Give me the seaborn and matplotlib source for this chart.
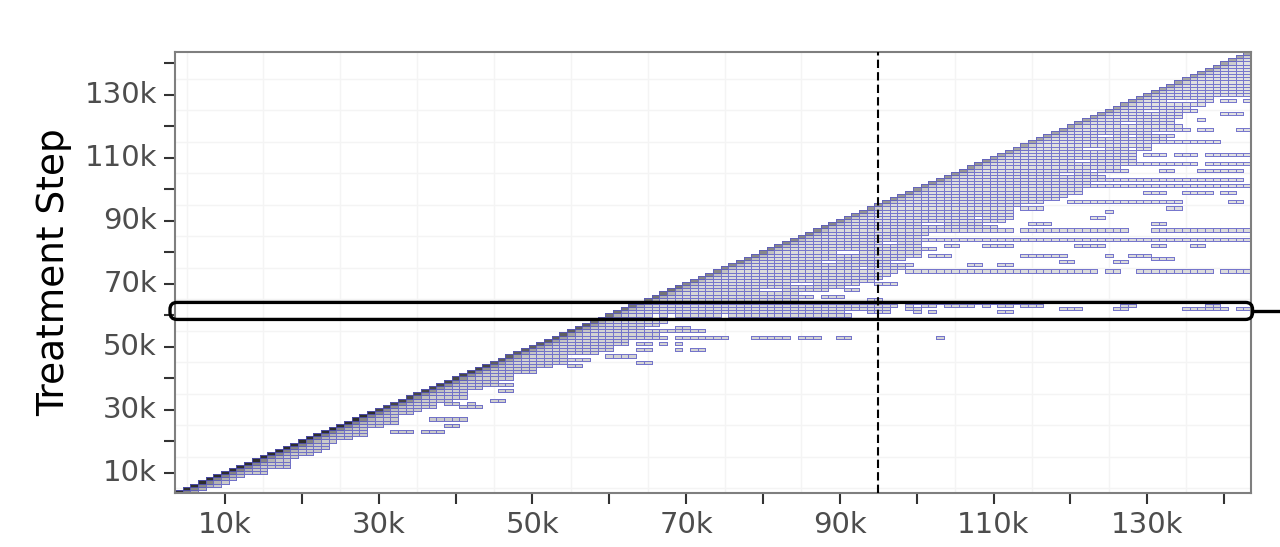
import numpy as np
import pandas as pd
import matplotlib
matplotlib.use("Agg")
import matplotlib.pyplot as plt
from matplotlib.patches import FancyBboxPatch
from matplotlib.lines import Line2D
import seaborn as sns

# steps are in thousands; rows = treatment step, columns = evaluation step
first_step, last_step = 4, 143

# last evaluation step of the solid block that starts on the diagonal, one per treatment step
band_end = [
    6, 7, 9, 10, 11, 12,                                  # 4-9
    15, 15, 18, 18, 18, 19, 21, 22, 23, 23,               # 10-19
    24, 26, 28, 28, 28, 30, 32, 32, 32, 34,               # 20-29
    35, 37, 37, 39, 41, 41, 41, 43, 45, 45,               # 30-39
    47, 47, 50, 50, 52, 54, 54, 54,                       # 40-47
    58, 60, 60, 62, 62, 67,                               # 48-53
    66, 67, 64, 66, 65,                                   # 54-58
    65, 65, 90, 96, 97, 97,                               # 59-64
    84, 86, 84, 88, 90, 92, 94, 95,                       # 65-72
    96, 97, 98, 98, 96, 98, 100, 100,                     # 73-80
    102, 100, 100, 101, 100, 101,                         # 81-86
    112, 110, 108, 111, 112, 112, 112, 113, 113,          # 87-95
    117, 118, 119, 121,                                   # 96-99
    121, 143, 122, 130, 124, 123, 122, 126, 128, 128, 128,  # 100-110
    124, 128, 127, 130, 133, 132, 127, 130, 135,          # 111-119
    134, 133, 133, 134, 134, 136, 135, 137, 132, 138,     # 120-129
    143, 143, 143, 143, 143, 143, 143, 143, 143, 143,     # 130-139
    143, 143, 143, 143,                                   # 140-143
]

# isolated runs further right: (treatment step, first eval step, last eval step)
extra_cells = [
    (23, 32, 34), (23, 36, 38), (25, 39, 40), (27, 37, 41), (31, 41, 43),
    (32, 39, 40), (32, 42, 42), (33, 45, 46), (36, 46, 47), (38, 44, 44),
    (38, 46, 47), (42, 50, 50), (44, 55, 56), (45, 64, 65), (46, 55, 57),
    (47, 60, 61), (47, 62, 63), (49, 64, 65), (49, 69, 69), (49, 71, 72),
    (51, 64, 65), (51, 67, 67), (51, 69, 69),
    (53, 69, 73), (53, 74, 75), (53, 79, 83), (53, 85, 87), (53, 90, 91), (53, 103, 103),
    (55, 68, 72), (56, 69, 70), (58, 66, 67),
    (60, 67, 67), (60, 69, 74), (60, 76, 91),
    (61, 94, 96), (61, 100, 100), (61, 102, 102), (61, 111, 112),
    (62, 99, 100), (62, 119, 121), (62, 126, 127), (62, 135, 140), (62, 142, 143),
    (63, 99, 99), (63, 101, 102), (63, 104, 107), (63, 109, 109), (63, 111, 112),
    (63, 114, 116), (63, 127, 128), (63, 138, 139),
    (64, 99, 100), (64, 102, 105), (64, 108, 115),
    (65, 94, 95), (66, 88, 90), (68, 91, 92), (70, 95, 97),
    (74, 99, 109), (74, 110, 123), (74, 125, 126), (74, 129, 130), (74, 131, 133),
    (74, 134, 136), (74, 137, 138), (74, 140, 143),
    (76, 99, 99), (76, 107, 108), (76, 111, 112),
    (77, 119, 120), (77, 126, 127), (78, 131, 133),
    (79, 102, 104), (79, 114, 116), (79, 117, 119), (79, 125, 125), (79, 128, 130),
    (82, 104, 105), (82, 109, 112), (82, 121, 122), (82, 123, 124), (82, 131, 132),
    (82, 136, 137),
    (84, 102, 143),
    (87, 114, 119), (87, 120, 123), (87, 124, 125), (87, 126, 127), (87, 131, 132),
    (87, 133, 134), (87, 135, 139), (87, 140, 141), (87, 142, 143),
    (89, 115, 117), (89, 131, 132), (91, 123, 124), (93, 125, 125),
    (94, 114, 116), (94, 133, 134),
    (96, 120, 122), (96, 123, 128), (96, 129, 130), (96, 131, 132), (96, 133, 134),
    (96, 141, 142),
    (99, 130, 132), (99, 135, 136), (99, 137, 138), (99, 140, 141),
    (103, 131, 132), (103, 133, 136), (103, 137, 138), (103, 139, 140), (103, 141, 142),
    (106, 124, 127), (106, 132, 133), (106, 137, 142),
    (108, 129, 132), (108, 133, 136), (108, 138, 143),
    (111, 125, 128), (111, 130, 132), (111, 134, 136), (111, 138, 143),
    (113, 129, 130), (115, 134, 139), (117, 129, 133),
    (119, 137, 138), (119, 142, 143), (122, 137, 137), (124, 140, 142),
    (128, 137, 138), (128, 140, 141), (128, 143, 143),
]

# empty cells inside the solid blocks
hole_cells = [
    (68, 80, 82), (70, 84, 86), (75, 93, 93), (77, 88, 89), (80, 90, 92),
    (83, 96, 97), (87, 113, 113), (89, 101, 103), (91, 108, 108), (94, 113, 113),
    (96, 117, 117), (105, 119, 120), (109, 121, 122), (113, 122, 124), (117, 124, 125),
    (121, 127, 128), (125, 130, 131),
]

cutoff_step = 95                 # dashed vertical marker
highlight_rows = (58.6, 64.0)    # outlined treatment-step band

steps = np.arange(first_step, last_step + 1)
n = len(steps)
assert len(band_end) == n

filled = np.zeros((n, n), dtype=bool)
for i, (row, end) in enumerate(zip(steps, band_end)):
    filled[i, row - first_step:end - first_step + 1] = True
for row, x0, x1 in extra_cells:
    filled[row - first_step, x0 - first_step:x1 - first_step + 1] = True
for row, x0, x1 in hole_cells:
    filled[row - first_step, x0 - first_step:x1 - first_step + 1] = False
filled &= np.triu(np.ones((n, n), dtype=bool))

# grey level of the cells
level_bins = [30, 45, 58, 70, 90, 110]
diag_level = [0.85, 0.78, 0.70, 0.62, 0.55, 0.50, 0.45]
far_level = [0.32, 0.30, 0.28, 0.26, 0.24, 0.22, 0.21]
near_scale = [1.0, 0.66, 0.48]

shade = np.zeros((n, n))
for i, row in enumerate(steps):
    b = np.digitize(row, level_bins)
    for j in range(i, n):
        off = j - i
        shade[i, j] = diag_level[b] * near_scale[off] if off < 3 else far_level[b]
shade = np.maximum(shade, np.array(far_level)[np.digitize(steps, level_bins)][:, None])

df = pd.DataFrame(shade, index=steps, columns=steps)

sns.set_style("white")
plt.rcParams["font.family"] = ["DejaVu Sans"]

fig = plt.figure(figsize=(12.8, 5.47), dpi=100)
ax = fig.add_axes([175 / 1280, 1 - 493 / 547, 1076 / 1280, 441 / 547])

edge = (0.33, 0.33, 0.78, 0.75)
sns.heatmap(df, mask=~filled, cmap="Greys", vmin=0, vmax=1, cbar=False,
            linewidths=0.6, linecolor=edge, ax=ax)
mesh = ax.collections[0]
ec = np.zeros((n * n, 4))
ec[filled.ravel()] = edge
mesh.set_edgecolor(ec)
mesh.set_zorder(2)

ax.set_xlim(0, n)
ax.set_ylim(0, n)


def pos(s):
    return s - first_step + 0.5


major = np.arange(10, 141, 10)
labels = [f"{s}k" if (s // 10) % 2 == 1 else "" for s in major]
ax.set_xticks(pos(major))
ax.set_xticklabels(labels, rotation=0)
ax.set_yticks(pos(major))
ax.set_yticklabels(labels, rotation=0)
minor = np.arange(5, 140, 10)
ax.set_xticks(pos(minor), minor=True)
ax.set_yticks(pos(minor), minor=True)
ax.grid(which="minor", color="#f4f4f4", linewidth=1.0, zorder=0)
ax.grid(which="major", visible=False)
ax.set_axisbelow(True)
ax.tick_params(which="major", direction="out", length=8, width=1.5, color="#333333",
               labelsize=21, labelcolor="#4d4d4d", pad=5,
               bottom=True, left=True)
ax.tick_params(which="minor", length=0)
ax.set_xlabel("")
ax.set_ylabel("Treatment Step", fontsize=27, color="black")
ax.yaxis.set_label_coords(-0.096, 0.5)

for sp in ax.spines.values():
    sp.set_visible(True)
    sp.set_color("#7f7f7f")
    sp.set_linewidth(1.5)

ax.axvline(pos(cutoff_step), color="black", linestyle=(0, (4, 2)), linewidth=1.5, zorder=3)

# rounded highlight box around the treatment-step band, drawn with circular corners
px_x = 1076 / n
px_y = 441 / n
x0, x1 = -0.65, n + 0.2
y0, y1 = pos(highlight_rows[0]), pos(highlight_rows[1])
box = FancyBboxPatch((x0, y0), x1 - x0, y1 - y0,
                     boxstyle=f"round,pad=0,rounding_size={7 / px_x:.3f}",
                     mutation_aspect=px_x / px_y,
                     fill=False, edgecolor="black", linewidth=2.4,
                     clip_on=False, zorder=4)
ax.add_patch(box)
ymid = (y0 + y1) / 2
ax.add_line(Line2D([x1, x1 + 10], [ymid, ymid], color="black", linewidth=2.4,
                   clip_on=False, zorder=4))

fig.savefig("out.png", dpi=100, facecolor="white")
